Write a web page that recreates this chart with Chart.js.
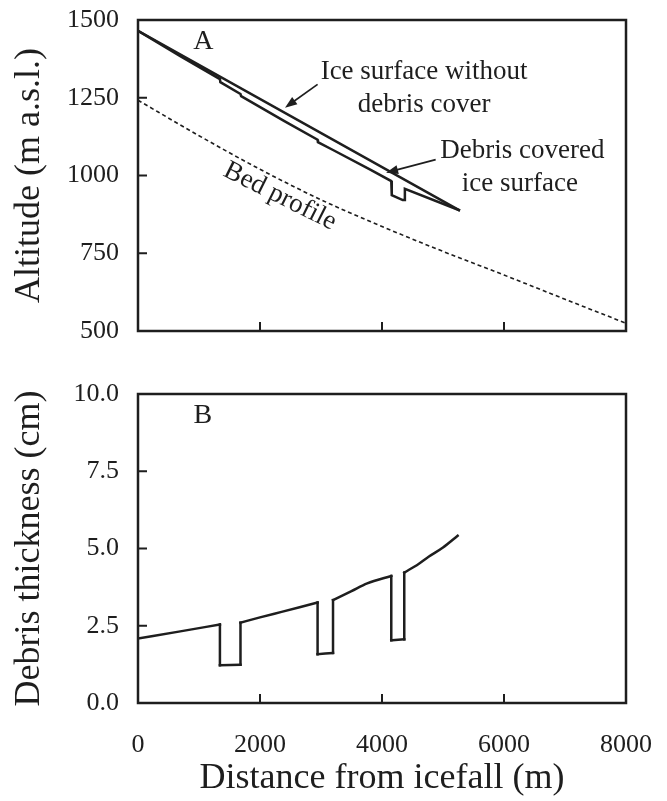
<!DOCTYPE html>
<html>
<head>
<meta charset="utf-8">
<script src="https://cdn.jsdelivr.net/npm/chart.js@4.4.0/dist/chart.umd.min.js"></script>
<style>
  html, body { margin: 0; padding: 0; background: #fff; }
  #wrap { position: relative; width: 667px; height: 801px; overflow: hidden; background: #fff; }
  #wrap canvas { position: absolute; left: 0; }
  #chartA { top: 0; }
  #chartB { top: 380px; }
</style>
</head>
<body>
<div id="wrap">
  <canvas id="chartA" width="667" height="345"></canvas>
  <canvas id="chartB" width="667" height="421"></canvas>
</div>
<script>
// ---- data ----
const distTicks = [0, 2000, 4000, 6000, 8000];
const altTicks = [1500, 1250, 1000, 750, 500];
const thickTicks = [10, 7.5, 5, 2.5, 0];

// panel A: bed profile (dashed)
const bedDist = [0, 1000, 2000, 3000, 4000, 5000, 6000, 7000, 8000];
const bedAlt  = [1242, 1128, 1020, 922, 836, 756, 680, 602, 525];

// panel A: ice surface without debris cover
const cleanDist = [0, 5260];
const cleanAlt  = [1465, 889];

// panel A: debris covered ice surface
const debrisDist = [0, 700, 1343, 1350, 1680, 1690, 2400, 2944, 2950, 3197, 3800, 4152, 4160, 4340, 4365, 4375, 5260];
const debrisAlt  = [1465, 1383, 1310, 1300, 1262, 1255, 1175, 1115, 1107, 1082, 1020, 982, 937, 921, 921, 957, 889];

// panel B: debris thickness (cm)
const thickDist = [0, 669, 1343, 1343, 1680, 1680, 2000, 2354, 2944, 2944, 3197, 3197, 3500, 3758, 4152, 4152, 4365, 4365, 4600, 4770, 5000, 5240];
const thickVal  = [2.09, 2.31, 2.54, 1.22, 1.24, 2.60, 2.77, 2.95, 3.25, 1.58, 1.62, 3.33, 3.62, 3.87, 4.11, 2.03, 2.06, 4.22, 4.50, 4.74, 5.03, 5.41];

const ink = '#1e1e1e';
const serif = '"Liberation Serif", "Times New Roman", Times, serif';

const pts = (xs, ys) => xs.map((x, i) => ({ x: x, y: ys[i] }));

// split a series at its vertical steps so the smooth runs can be curved
// and the steps stay straight
function splitRuns(xs, ys) {
    const runs = [];
    let cur = [{ x: xs[0], y: ys[0] }];
    for (let i = 1; i < xs.length; i++) {
        if (xs[i] === xs[i - 1]) {
            runs.push({ pts: cur, smooth: true });
            runs.push({ pts: [{ x: xs[i - 1], y: ys[i - 1] }, { x: xs[i], y: ys[i] }], smooth: false });
            cur = [{ x: xs[i], y: ys[i] }];
        } else {
            cur.push({ x: xs[i], y: ys[i] });
        }
    }
    runs.push({ pts: cur, smooth: true });
    return runs.filter(r => r.pts.length > 1);
}

// frame box + inward tick marks
const frameTicks = {
    id: 'frameTicks',
    afterDatasetsDraw(chart, args, opts) {
        const { ctx, chartArea: a, scales: { x, y } } = chart;
        ctx.save();
        ctx.strokeStyle = ink;
        ctx.lineWidth = 2.5;
        ctx.strokeRect(a.left, a.top, a.right - a.left, a.bottom - a.top);
        ctx.lineWidth = 2;
        ctx.beginPath();
        opts.yInner.forEach(v => {
            const py = y.getPixelForValue(v);
            ctx.moveTo(a.left, py); ctx.lineTo(a.left + 9, py);
        });
        opts.xInner.forEach(v => {
            const px = x.getPixelForValue(v);
            ctx.moveTo(px, a.bottom); ctx.lineTo(px, a.bottom - 9);
        });
        ctx.stroke();
        ctx.restore();
    }
};

// text labels and arrows, placed in data units
const notes = {
    id: 'notes',
    afterDraw(chart, args, opts) {
        const { ctx, scales: { x, y } } = chart;
        ctx.save();
        ctx.fillStyle = ink;
        ctx.strokeStyle = ink;
        ctx.textAlign = 'center';
        ctx.textBaseline = 'middle';
        (opts.texts || []).forEach(t => {
            ctx.save();
            ctx.font = (t.size || 27) + 'px ' + serif;
            ctx.translate(x.getPixelForValue(t.x), y.getPixelForValue(t.y));
            if (t.along) {
                const dx = x.getPixelForValue(t.along[2]) - x.getPixelForValue(t.along[0]);
                const dy = y.getPixelForValue(t.along[3]) - y.getPixelForValue(t.along[1]);
                ctx.rotate(Math.atan2(dy, dx));
            }
            ctx.fillText(t.text, 0, 0);
            ctx.restore();
        });
        (opts.arrows || []).forEach(ar => {
            const x0 = x.getPixelForValue(ar[0]), y0 = y.getPixelForValue(ar[1]);
            const x1 = x.getPixelForValue(ar[2]), y1 = y.getPixelForValue(ar[3]);
            const ang = Math.atan2(y1 - y0, x1 - x0);
            ctx.lineWidth = 1.7;
            ctx.beginPath();
            ctx.moveTo(x0, y0);
            ctx.lineTo(x1 - 8 * Math.cos(ang), y1 - 8 * Math.sin(ang));
            ctx.stroke();
            ctx.beginPath();
            ctx.moveTo(x1, y1);
            ctx.lineTo(x1 - 12 * Math.cos(ang) + 4.5 * Math.sin(ang), y1 - 12 * Math.sin(ang) - 4.5 * Math.cos(ang));
            ctx.lineTo(x1 - 12 * Math.cos(ang) - 4.5 * Math.sin(ang), y1 - 12 * Math.sin(ang) + 4.5 * Math.cos(ang));
            ctx.closePath();
            ctx.fill();
        });
        ctx.restore();
    }
};

function xScale(showLabels, height) {
    return {
        type: 'linear', min: 0, max: 8000,
        afterBuildTicks: s => { s.ticks = distTicks.map(v => ({ value: v })); },
        afterFit: s => { s.height = height; s.paddingLeft = 0; s.paddingRight = 0; },
        grid: { display: false, drawTicks: false },
        border: { display: false },
        ticks: {
            display: showLabels, autoSkip: false, maxRotation: 0, padding: 27,
            color: ink, font: { family: serif, size: 26 },
            callback: v => String(v)
        },
        title: {
            display: showLabels, text: 'Distance from icefall (m)', color: ink,
            font: { family: serif, size: 36 }, padding: { top: 0, bottom: 1 }
        }
    };
}

function yScale(min, max, tickVals, label, fmt) {
    return {
        type: 'linear', min: min, max: max,
        afterBuildTicks: s => { s.ticks = tickVals.map(v => ({ value: v })); },
        afterFit: s => { s.width = 138; s.paddingTop = 0; s.paddingBottom = 0; },
        grid: { display: false, drawTicks: false },
        border: { display: false },
        ticks: {
            autoSkip: false, padding: 19, color: ink,
            font: { family: serif, size: 26 },
            callback: fmt
        },
        title: {
            display: true, text: label, color: ink,
            font: { family: serif, size: 36 }, padding: { top: 8, bottom: 0 }
        }
    };
}

const common = {
    responsive: false,
    animation: false,
    devicePixelRatio: 1,
    events: [],
    elements: { point: { radius: 0 }, line: { tension: 0, borderCapStyle: 'square', borderJoinStyle: 'miter' } }
};

new Chart(document.getElementById('chartA'), {
    type: 'scatter',
    data: {
        datasets: [
            { data: pts(bedDist, bedAlt), showLine: true, borderColor: ink, borderWidth: 1.6, borderDash: [4, 3], cubicInterpolationMode: 'monotone', borderCapStyle: 'butt' },
            { data: pts(cleanDist, cleanAlt), showLine: true, borderColor: ink, borderWidth: 2.5 },
            { data: pts(debrisDist, debrisAlt), showLine: true, borderColor: ink, borderWidth: 2.5 }
        ]
    },
    options: Object.assign({}, common, {
        layout: { padding: { top: 20, right: 41, left: 0, bottom: 0 } },
        scales: {
            x: xScale(false, 14),
            y: yScale(500, 1500, altTicks, 'Altitude (m a.s.l.)', v => String(v))
        },
        plugins: {
            legend: { display: false },
            tooltip: { enabled: false },
            frameTicks: { yInner: [1250, 1000, 750], xInner: [2000, 4000, 6000] },
            notes: {
                texts: [
                    { text: 'A', x: 1073, y: 1432, size: 28 },
                    { text: 'Ice surface without', x: 4690, y: 1334 },
                    { text: 'debris cover', x: 4690, y: 1226 },
                    { text: 'Debris covered', x: 6300, y: 1080 },
                    { text: 'ice surface', x: 6260, y: 974 },
                    { text: 'Bed profile', x: 2326, y: 933, along: [2000, 1020, 3000, 922] }
                ],
                arrows: [
                    [2944, 1293, 2410, 1218],
                    [4880, 1051, 4067, 1009]
                ]
            }
        }
    }),
    plugins: [frameTicks, notes]
});

const thickSets = splitRuns(thickDist, thickVal).map(r => ({
    data: r.pts, showLine: true, borderColor: ink, borderWidth: 2.5,
    cubicInterpolationMode: r.smooth ? 'monotone' : 'default'
}));

new Chart(document.getElementById('chartB'), {
    type: 'scatter',
    data: { datasets: thickSets },
    options: Object.assign({}, common, {
        layout: { padding: { top: 14, right: 41, left: 0, bottom: 0 } },
        scales: {
            x: xScale(true, 98),
            y: yScale(0, 10, thickTicks, 'Debris thickness (cm)', v => Number(v).toFixed(1))
        },
        plugins: {
            legend: { display: false },
            tooltip: { enabled: false },
            frameTicks: { yInner: [7.5, 5, 2.5], xInner: [2000, 4000, 6000] },
            notes: {
                texts: [ { text: 'B', x: 1062, y: 9.31, size: 28 } ]
            }
        }
    }),
    plugins: [frameTicks, notes]
});
</script>
</body>
</html>
